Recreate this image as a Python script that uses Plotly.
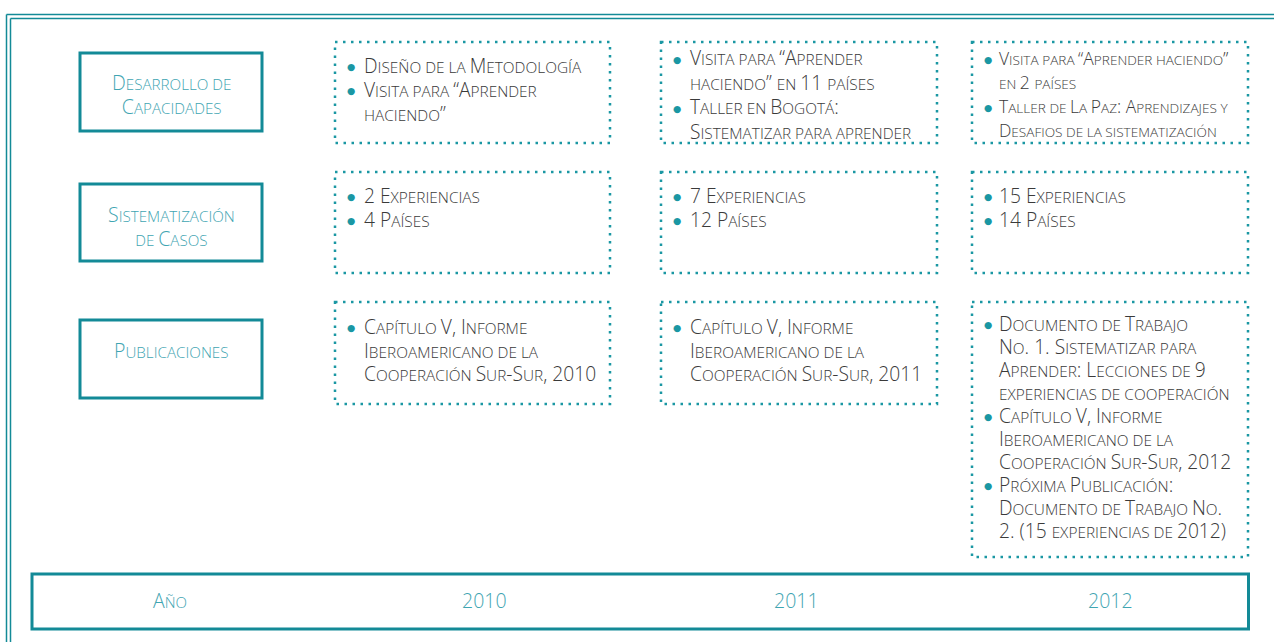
import plotly.graph_objects as go

# ---------------- data (text content) ----------------
row_labels = [["Desarrollo de", "Capacidades"],
              ["Sistematización", "de Casos"],
              ["Publicaciones"]]
year_header = "Año"
years = ["2010", "2011", "2012"]

cap_2010 = [["Diseño de la Metodología"],
            ["Visita para “Aprender", "haciendo”"]]
cap_2011 = [["Visita para “Aprender", "haciendo” en 11 países"],
            ["Taller en Bogotá:", "Sistematizar para aprender"]]
cap_2012 = [["Visita para “Aprender haciendo”", "en 2 países"],
            ["Taller de La Paz: Aprendizajes y", "Desafios de la sistematización"]]

sis_2010 = [["2 Experiencias"], ["4 Países"]]
sis_2011 = [["7 Experiencias"], ["12 Países"]]
sis_2012 = [["15 Experiencias"], ["14 Países"]]

pub_2010 = [["Capítulo V, Informe", "Iberoamericano de la", "Cooperación Sur-Sur, 2010"]]
pub_2011 = [["Capítulo V, Informe", "Iberoamericano de la", "Cooperación Sur-Sur, 2011"]]
pub_2012 = [["Documento de Trabajo", "No. 1. Sistematizar para",
             "Aprender: Lecciones de 9", "experiencias de cooperación"],
            ["Capítulo V, Informe", "Iberoamericano de la", "Cooperación Sur-Sur, 2012"],
            ["Próxima Publicación:", "Documento de Trabajo No.", "2. (15 experiencias de 2012)"]]

cells = [[cap_2010, cap_2011, cap_2012],
         [sis_2010, sis_2011, sis_2012],
         [pub_2010, pub_2011, pub_2012]]

# ---------------- layout / style ----------------
W, H = 1274, 642
TEAL = "#138a97"
DOT = "#1a97a3"
LABEL = "#3fa5b2"
TXT = "#3a3a3a"
FONT = "Open Sans"
LS = 1.3  # plotly line spacing factor

box_x = [(335, 610), (661, 937), (972, 1248)]
box_y = [[(42, 143)] * 3, [(172, 273)] * 3, [(302, 404), (302, 404), (302, 557)]]
bullet_x = [351, 677, 988]
text_x = [363, 689, 998]
first_y = [[65, 58, 58], [195, 195, 195], [326, 326, 323]]
line_h = [[24, 24.5, 24], [24, 24, 24], [23.6, 23.6, 23]]
label_box = [(53, 131), (184, 261), (320, 398)]
label_y = [82, 214, 350]
label_lh = 24
year_x = [484, 796, 1110]


def smallcaps(s, big, small):
    """Emulate small caps: lowercase letters upper-cased at a smaller size."""
    out, buf, kind = [], "", None

    def flush():
        if buf:
            sz = small if kind == "s" else big
            out.append(f'<span style="font-size:{sz}px">{buf}</span>')

    for ch in s:
        k = "s" if (ch.islower() or (ch == " " and kind == "s")) else "b"
        if k != kind:
            flush()
            buf, kind = "", k
        buf += ch.upper() if k == "s" else ch
    flush()
    return "".join(out)


fig = go.Figure()
fig.add_trace(go.Scatter(x=[0, W], y=[0, H], mode="markers",
                         marker=dict(opacity=0), hoverinfo="skip", showlegend=False))

shapes = []
# outer double frame
for off in (6.5, 10.5):
    shapes.append(dict(type="line", x0=off, x1=W + 20, y0=off + 8, y1=off + 8,
                       line=dict(color=TEAL, width=1.5)))
    shapes.append(dict(type="line", x0=off, x1=off, y0=off + 8, y1=H + 20,
                       line=dict(color=TEAL, width=1.5)))
# category boxes
for (y0, y1) in label_box:
    shapes.append(dict(type="rect", x0=80, x1=262, y0=y0, y1=y1,
                       line=dict(color=TEAL, width=3)))
# year box
shapes.append(dict(type="rect", x0=32, x1=1248.5, y0=574, y1=629,
                   line=dict(color=TEAL, width=3)))
# dotted boxes
for r in range(3):
    for c in range(3):
        x0, x1 = box_x[c]
        y0, y1 = box_y[r][c]
        shapes.append(dict(type="rect", x0=x0, x1=x1, y0=y0, y1=y1,
                           line=dict(color=DOT, width=2.5, dash="2.5px,5.5px")))

ann = []
# row labels
for r, lines in enumerate(row_labels):
    txt = "<br>".join(smallcaps(ln, 19.5, 15.2) for ln in lines)
    ymid = label_y[r] + (len(lines) - 1) * label_lh / 2
    ann.append(dict(x=171, y=ymid, text=txt, xanchor="center",
                    font=dict(family=FONT, size=label_lh / LS, color=LABEL, weight=300)))
# year row
ann.append(dict(x=170, y=600, text=smallcaps(year_header, 19.5, 15), xanchor="center",
                font=dict(family=FONT, size=19.5, color=LABEL, weight=300)))
for c, yr in enumerate(years):
    ann.append(dict(x=year_x[c], y=600, text=yr, xanchor="center",
                    font=dict(family=FONT, size=19.5, color=LABEL, weight=300)))

# cell content
for r in range(3):
    for c in range(3):
        condensed = (r == 0 and c == 2)
        big, small = (17.5, 13.6) if condensed else (19.2, 15.4)
        lh = line_h[r][c]
        y0 = first_y[r][c]
        lines, n = [], 0
        for item in cells[r][c]:
            ann.append(dict(x=bullet_x[c], y=y0 + n * lh + 1, text="●", xanchor="center",
                            font=dict(family="DejaVu Sans", size=9.5, color=DOT)))
            for ln in item:
                lines.append(smallcaps(ln, big, small))
                n += 1
        ann.append(dict(x=text_x[c], y=y0 + (n - 1) * lh / 2, text="<br>".join(lines),
                        xanchor="left", align="left",
                        font=dict(family=FONT, size=lh / LS, color=TXT, weight=300)))

for a in ann:
    a.update(xref="x", yref="y", showarrow=False, yanchor="middle", borderpad=0)

fig.update_layout(
    width=W, height=H, margin=dict(l=0, r=0, t=0, b=0),
    paper_bgcolor="white", plot_bgcolor="white",
    xaxis=dict(range=[0, W], visible=False, fixedrange=True),
    yaxis=dict(range=[H, 0], visible=False, fixedrange=True),
    shapes=shapes, annotations=ann, showlegend=False, hovermode=False,
)
fig.write_html("out.html", config={"displayModeBar": False, "staticPlot": True},
               post_script="document.body.style.margin='0';document.body.style.overflow='hidden';")
